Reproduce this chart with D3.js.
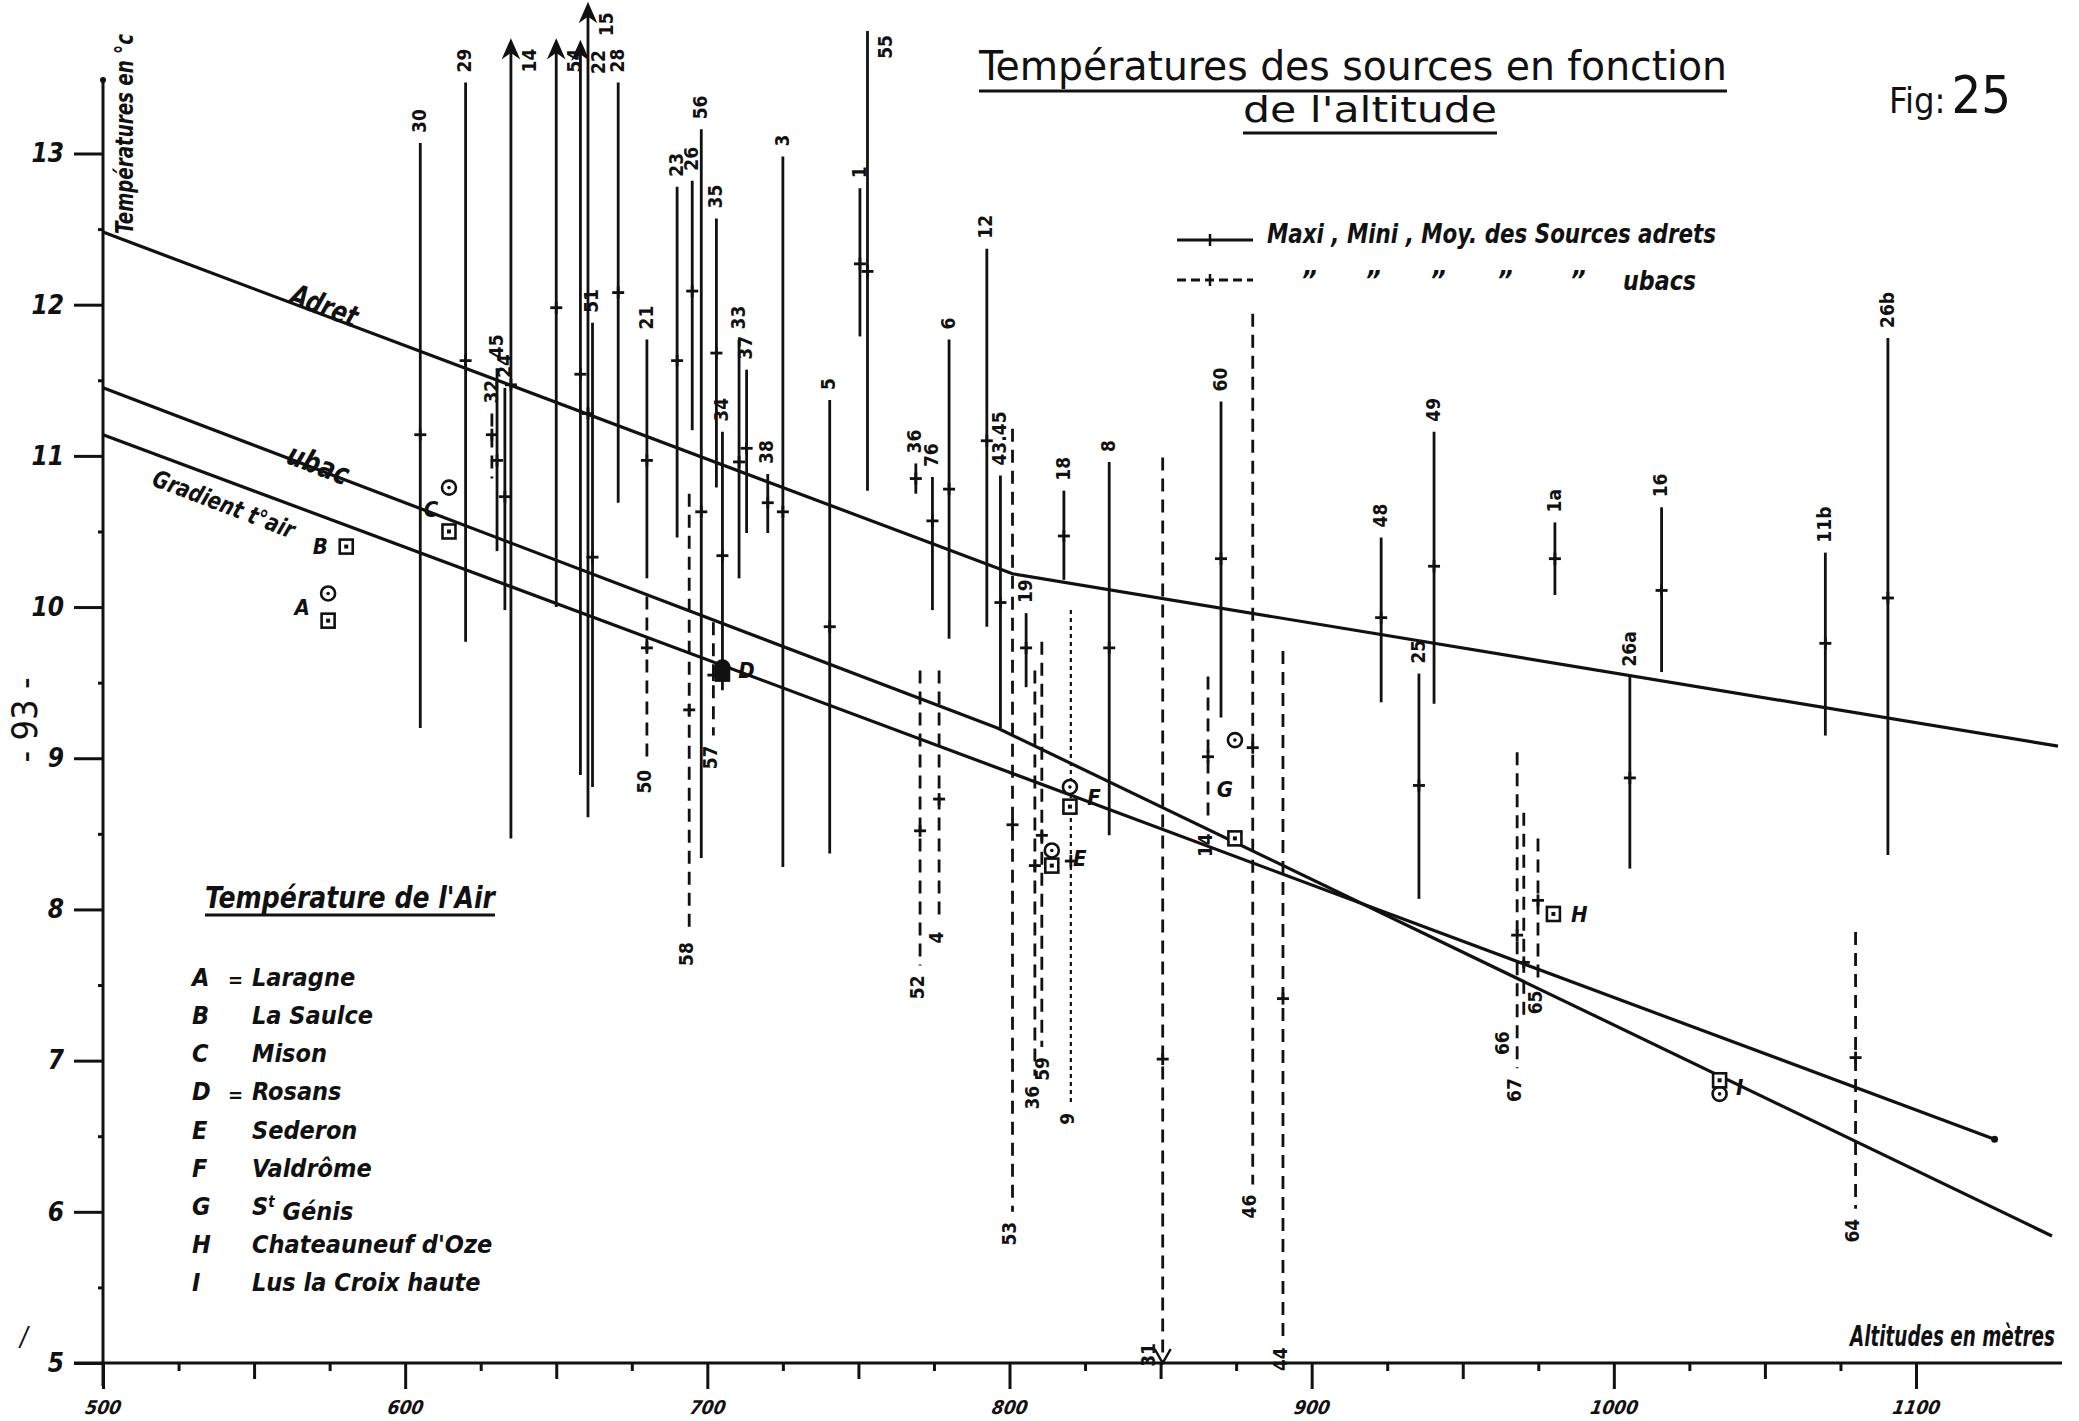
<!DOCTYPE html>
<html>
<head>
<meta charset="utf-8">
<script src="https://cdn.jsdelivr.net/npm/d3@7/dist/d3.min.js"></script>
<style>
  body { margin: 0; background: #fff; }
  .hand { font-family: "Liberation Sans Narrow", "DejaVu Sans Condensed", sans-serif; font-style: italic; fill: #111; }
  .num { font-family: "DejaVu Sans Condensed", "Liberation Sans Narrow", sans-serif; font-weight: bold; fill: #111; }
  .lettering { font-family: "DejaVu Sans Condensed", "Liberation Sans Narrow", sans-serif; fill: #111; }
</style>
</head>
<body>
<svg id="Chart"></svg>
<script>
// Sources adrets (trait plein) : numero, altitude (m), maxi, moyenne, mini (°C)
const adretNum = ["30","29","45","24","14","54","22","15","51","28",
                  "21","23","26","56","35","34","33","37","38","3",
                  "5","1","55","36","76","6","12","43.45","19","18",
                  "8","60","48","25","49","1a","26a","16","11b","26b"];
const adretAlt = [605,620,630.4,633,635,650,658,660.5,662,670.5,
                  680,690,695,698,703,705,710.5,713,720,725,
                  740.5,750.5,753,769,774.5,780,792.5,797,805.5,818,
                  833,870,923,935.5,940.5,980.5,1005.3,1015.8,1070,1090.7];
const adretMax = [13.07,13.47,11.58,11.45,13.72,13.72,13.71,13.96,11.88,13.47,
                  11.77,12.78,12.82,13.16,12.57,11.16,11.77,11.57,10.88,12.98,
                  11.37,12.77,13.81,10.95,10.86,11.77,12.37,10.87,9.96,10.77,
                  10.96,11.36,10.46,9.56,11.16,10.56,9.54,10.66,10.36,11.78];
const adretMoy = [11.14,11.63,10.97,10.73,11.47,11.98,11.54,11.28,10.33,12.08,
                  10.97,11.63,12.09,10.63,11.68,10.34,10.96,11.05,10.69,10.63,
                  9.87,12.27,12.22,10.85,10.57,10.78,11.1,10.03,9.73,10.47,
                  9.73,10.32,9.93,8.82,10.27,10.32,8.87,10.11,9.76,10.06];
const adretMin = [9.2,9.77,10.37,9.98,8.47,10.0,8.89,8.61,8.81,10.69,
                  10.19,10.46,11.17,8.34,10.79,9.45,10.19,10.49,10.49,8.28,
                  8.37,11.79,10.77,10.75,9.98,9.79,9.87,9.2,9.47,10.18,
                  8.49,9.27,9.37,8.07,9.36,10.08,8.27,9.57,9.15,8.36];

// Sources ubacs (tirets)
const ubacNum = ["32","50","58","57","52","4","53","36","59","9","31","14","46","44","67","66","65","64"];
const ubacAlt = [628.7,680,694,702,770.4,776.7,801,808.4,810.7,820.3,850.7,865.7,880.5,890.5,968,970.2,974.9,1080];
const ubacMax = [11.28,10.07,10.75,9.9,9.58,9.58,11.18,9.58,9.77,9.98,10.99,9.54,11.94,9.71,9.04,8.64,8.47,7.85];
const ubacMoy = [11.14,9.73,9.32,9.55,8.52,8.73,8.56,8.29,8.49,8.32,7.01,9.01,9.07,7.41,7.83,7.65,8.06,7.02];
const ubacMin = [10.85,8.99,7.85,9.15,7.63,7.92,6.0,6.9,7.09,6.72,5.0,8.57,6.18,5.17,6.95,7.26,7.53,6.02];

// valeurs hors cadre (fleches)
const arrowUp = ["14","54","22","15"];
const arrowDown = ["31"];
const ubacLabelAbove = ["32"];
const dottedBars = ["9"];

// droites
const adretLineAlt = [500, 801, 1147];
const adretLineT = [12.48, 10.22, 9.08];
const ubacLineAlt = [500, 796, 1145];
const ubacLineT = [11.45, 9.2, 5.84];
const gradLineAlt = [500, 1126];
const gradLineT = [11.14, 6.48];

// Temperature de l'air (stations)
const airLetter = ["A","B","C","D","E","F","G","H","I"];
const airName = ["Laragne","La Saulce","Mison","Rosans","Sederon","Valdrôme","St Génis","Chateauneuf  d'Oze","Lus la Croix haute"];
const airAlt = [574.5, 580.5, 614.5, 705, 814, 820, 874.6, 980, 1035];
const airCircle = [10.09, null, 10.79, 9.6, 8.39, 8.81, 9.12, null, 6.78];
const airSquare = [9.91, 10.4, 10.5, 9.56, 8.29, 8.68, 8.47, 7.97, 6.87];

// axes
const yTicks = [5,6,7,8,9,10,11,12,13];
const xTicks = [500,600,700,800,900,1000,1100];

const W = 2079, H = 1421;
const svg = d3.select("#Chart").attr("width", W).attr("height", H);
svg.append("rect").attr("width", W).attr("height", H).attr("fill", "#fff");

const x = d3.scaleLinear().domain([500, 1100]).range([103, 1916]);
const y = d3.scaleLinear().domain([5, 13]).range([1363, 153.5]);

const ink = "#111";

//// Axes
svg.append("line").attr("x1", x(500)).attr("x2", x(500)).attr("y1", 80).attr("y2", 1386)
  .attr("stroke", ink).attr("stroke-width", 3);
svg.append("circle").attr("cx", x(500)).attr("cy", 80).attr("r", 3).attr("fill", ink);
svg.append("line").attr("x1", 74).attr("x2", 2062).attr("y1", y(5)).attr("y2", y(5))
  .attr("stroke", ink).attr("stroke-width", 3);

const yAxis = svg.append("g").attr("transform", `translate(${x(500)},0)`)
  .call(d3.axisLeft(y).tickValues(yTicks).tickSize(29).tickPadding(10).tickFormat(d3.format("d")));
const yMinor = svg.append("g").attr("transform", `translate(${x(500)},0)`)
  .call(d3.axisLeft(y).tickValues(d3.range(5.5, 13, 1)).tickSize(5).tickFormat(""));

const xAxis = svg.append("g").attr("transform", `translate(0,${y(5)})`)
  .call(d3.axisBottom(x).tickValues(xTicks).tickSize(26).tickPadding(12).tickFormat(d3.format("d")));
const x50 = svg.append("g").attr("transform", `translate(0,${y(5)})`)
  .call(d3.axisBottom(x).tickValues(d3.range(550, 1100, 100)).tickSize(16).tickFormat(""));
const x25 = svg.append("g").attr("transform", `translate(0,${y(5)})`)
  .call(d3.axisBottom(x).tickValues(d3.range(525, 1101, 50)).tickSize(8).tickFormat(""));

[yAxis, yMinor, xAxis, x50, x25].forEach(g => {
  g.select(".domain").remove();
  g.selectAll(".tick line").attr("stroke", ink).attr("stroke-width", 3);
});
yAxis.selectAll(".tick text").attr("class", "hand").attr("font-size", 26).attr("font-weight", "bold");
xAxis.selectAll(".tick text").attr("class", "num").attr("font-size", 19)
  .attr("font-style", "italic").attr("dx", 8).attr("transform", "skewX(-10)");

//// Lines: adret, ubac, gradient
const line = d3.line().x(d => x(d[0])).y(d => y(d[1]));
[[adretLineAlt, adretLineT], [ubacLineAlt, ubacLineT], [gradLineAlt, gradLineT]].forEach(p => {
  svg.append("path").datum(d3.zip(p[0], p[1])).attr("d", line)
    .attr("fill", "none").attr("stroke", ink).attr("stroke-width", 3.2);
});
svg.append("circle").attr("cx", x(gradLineAlt[1])).attr("cy", y(gradLineT[1])).attr("r", 3.5).attr("fill", ink);

function lineLabel(txt, alt, t, ang, size, len) {
  svg.append("text").attr("class", "hand").attr("font-size", size).attr("font-weight", "bold")
    .attr("text-anchor", "middle")
    .attr("transform", `translate(${x(alt)},${y(t)}) rotate(${ang})`)
    .attr("textLength", len).attr("lengthAdjust", "spacingAndGlyphs")
    .text(txt);
}
lineLabel("Adret", 572, 11.93, 21, 30, 70);
lineLabel("ubac", 570, 10.88, 21, 30, 64);
lineLabel("Gradient t°air", 539, 10.63, 21, 24, 150);

//// Source bars
// petits decalages de certaines etiquettes pour qu'elles ne chevauchent pas
const labelShift = { "66": -18, "59": 4 };

function drawBars(nums, alts, maxs, moys, mins, dashed) {
  const g = svg.append("g");
  nums.forEach((n, i) => {
    const bx = x(alts[i]);
    const top = y(maxs[i]), bot = y(mins[i]), my = y(moys[i]);
    const dotted = dottedBars.includes(n);
    g.append("line").attr("x1", bx).attr("x2", bx).attr("y1", top).attr("y2", bot)
      .attr("stroke", ink).attr("stroke-width", dotted ? 2.2 : 2.8)
      .attr("stroke-dasharray", dotted ? "4,4" : (dashed ? "13,8" : null));
    // + at the mean
    g.append("line").attr("x1", bx - 6).attr("x2", bx + 6).attr("y1", my).attr("y2", my)
      .attr("stroke", ink).attr("stroke-width", 2.8);
    g.append("line").attr("x1", bx).attr("x2", bx).attr("y1", my - 6).attr("y2", my + 6)
      .attr("stroke", ink).attr("stroke-width", 2.8);

    const up = arrowUp.includes(n) && !dashed;
    const down = arrowDown.includes(n) && dashed;
    if (up) {
      g.append("path").attr("d", `M${bx},${top - 4} l-7,16 l7,-5 l7,5 z`).attr("fill", ink).attr("stroke", ink).attr("stroke-width", 2);
    }
    if (down) {
      g.append("path").attr("d", `M${bx - 8},${bot - 14} L${bx},${bot} L${bx + 8},${bot - 14}`)
        .attr("fill", "none").attr("stroke", ink).attr("stroke-width", 2.5);
    }

    const sh = labelShift[n] && dashed ? labelShift[n] : 0;
    const above = !dashed || ubacLabelAbove.includes(n);
    const lbl = g.append("text").attr("class", "num").attr("font-size", 19).attr("dy", "0.35em").text(n);
    if (above) {
      const ty = top - (up ? 20 : 10);
      if (ty < 40) {
        lbl.attr("text-anchor", "end").attr("transform", `translate(${bx + 18},${top + 4}) rotate(-90)`);
      } else {
        lbl.attr("text-anchor", "start").attr("transform", `translate(${bx - 1},${ty}) rotate(-90)`);
      }
    } else {
      lbl.attr("text-anchor", "end").attr("transform", `translate(${bx - (down ? 14 : 3) + sh},${bot + (down ? -20 : 10)}) rotate(-90)`);
    }
  });
}
drawBars(adretNum, adretAlt, adretMax, adretMoy, adretMin, false);
drawBars(ubacNum, ubacAlt, ubacMax, ubacMoy, ubacMin, true);

//// Air temperature markers
const letterDx = [-26, -26, -18, 24, 28, 24, -10, 26, 20];
const air = svg.append("g");
airLetter.forEach((L, i) => {
  const ax = x(airAlt[i]);
  if (airCircle[i] !== null) {
    air.append("circle").attr("cx", ax).attr("cy", y(airCircle[i])).attr("r", 7)
      .attr("fill", L === "D" ? ink : "#fff").attr("stroke", ink).attr("stroke-width", 2.6);
    air.append("circle").attr("cx", ax).attr("cy", y(airCircle[i])).attr("r", 1.8).attr("fill", ink);
  }
  if (airSquare[i] !== null) {
    air.append("rect").attr("x", ax - 6.5).attr("y", y(airSquare[i]) - 7).attr("width", 13).attr("height", 14)
      .attr("fill", L === "D" ? ink : "#fff").attr("stroke", ink).attr("stroke-width", 2.6);
    air.append("rect").attr("x", ax - 2).attr("y", y(airSquare[i]) - 2).attr("width", 4).attr("height", 4).attr("fill", ink);
  }
  const ly = airCircle[i] !== null ? (y(airCircle[i]) + y(airSquare[i])) / 2 : y(airSquare[i]);
  air.append("text").attr("class", "hand").attr("font-size", 22).attr("font-weight", "bold")
    .attr("text-anchor", "middle").attr("x", ax + letterDx[i]).attr("y", ly).attr("dy", "0.35em").text(L);
});

//// Titles and annotations
svg.append("text").attr("class", "lettering").attr("x", 979).attr("y", 80).attr("font-size", 40)
  .attr("textLength", 748).attr("lengthAdjust", "spacingAndGlyphs")
  .text("Températures des sources en fonction");
svg.append("line").attr("x1", 979).attr("x2", 1727).attr("y1", 91).attr("y2", 91).attr("stroke", ink).attr("stroke-width", 3);
svg.append("text").attr("class", "lettering").attr("x", 1243).attr("y", 122).attr("font-size", 36)
  .attr("textLength", 254).attr("lengthAdjust", "spacingAndGlyphs")
  .text("de  l'altitude");
svg.append("line").attr("x1", 1243).attr("x2", 1497).attr("y1", 133).attr("y2", 133).attr("stroke", ink).attr("stroke-width", 3);

const fig = svg.append("text").attr("class", "lettering").attr("x", 1889).attr("y", 113);
fig.append("tspan").attr("font-size", 36).text("Fig:");
fig.append("tspan").attr("font-size", 52).attr("dx", 6).text("25");

svg.append("text").attr("class", "hand").attr("font-size", 25).attr("font-weight", "bold")
  .attr("transform", "translate(133,234) rotate(-90)")
  .attr("textLength", 200).attr("lengthAdjust", "spacingAndGlyphs")
  .text("Températures en °c");

svg.append("text").attr("class", "lettering").attr("font-size", 36)
  .attr("text-anchor", "middle").attr("transform", "translate(37,720) rotate(-90)")
  .text("- 93 -");
svg.append("text").attr("class", "hand").attr("font-size", 26).attr("x", 20).attr("y", 1346).text("/");

svg.append("text").attr("class", "hand").attr("font-size", 28).attr("font-weight", "bold")
  .attr("x", 1850).attr("y", 1346).attr("textLength", 205).attr("lengthAdjust", "spacingAndGlyphs")
  .text("Altitudes  en  mètres");

//// Legend: sources
const legY = [240, 280];
legY.forEach((ly, i) => {
  svg.append("line").attr("x1", 1177).attr("x2", 1253).attr("y1", ly).attr("y2", ly)
    .attr("stroke", ink).attr("stroke-width", 2.8).attr("stroke-dasharray", i ? "9,5" : null);
  svg.append("line").attr("x1", 1210).attr("x2", 1210).attr("y1", ly - 6).attr("y2", ly + 6)
    .attr("stroke", ink).attr("stroke-width", 2.5);
});
svg.append("text").attr("class", "hand").attr("font-size", 27).attr("font-weight", "bold")
  .attr("x", 1267).attr("y", 243).attr("textLength", 449).attr("lengthAdjust", "spacingAndGlyphs")
  .text("Maxi , Mini , Moy.  des  Sources   adrets");
const ditto = svg.append("text").attr("class", "hand").attr("font-size", 27).attr("font-weight", "bold").attr("y", 290);
[1301, 1365, 1430, 1497, 1570].forEach(dx => ditto.append("tspan").attr("x", dx).text("\u201D"));
ditto.append("tspan").attr("x", 1623).attr("textLength", 73).attr("lengthAdjust", "spacingAndGlyphs").text("ubacs");

//// Legend: air temperature
svg.append("text").attr("class", "hand").attr("font-size", 30).attr("font-weight", "bold")
  .attr("x", 205).attr("y", 908).attr("textLength", 290).attr("lengthAdjust", "spacingAndGlyphs")
  .text("Température  de  l'Air");
svg.append("line").attr("x1", 205).attr("x2", 495).attr("y1", 915).attr("y2", 915).attr("stroke", ink).attr("stroke-width", 3);

const airLeg = svg.append("g");
airLetter.forEach((L, i) => {
  const ly = 977 + i * 38.2;
  airLeg.append("text").attr("class", "hand").attr("font-size", 25).attr("font-weight", "bold")
    .attr("x", 192).attr("y", ly).attr("dy", "0.35em").text(L);
  if (L === "A" || L === "D") {
    airLeg.append("text").attr("class", "hand").attr("font-size", 20).attr("font-weight", "bold")
      .attr("x", 228).attr("y", ly + 3).attr("dy", "0.35em").text("=");
  }
  const t = airLeg.append("text").attr("class", "hand").attr("font-size", 25).attr("font-weight", "bold")
    .attr("x", 252).attr("y", ly).attr("dy", "0.35em");
  if (airName[i].startsWith("St ")) {
    t.append("tspan").text("S");
    t.append("tspan").attr("font-size", 15).attr("dy", "-0.5em").text("t");
    t.append("tspan").attr("dy", "0.5em").text(" " + airName[i].slice(3));
  } else {
    t.text(airName[i]);
  }
});
</script>
</body>
</html>
